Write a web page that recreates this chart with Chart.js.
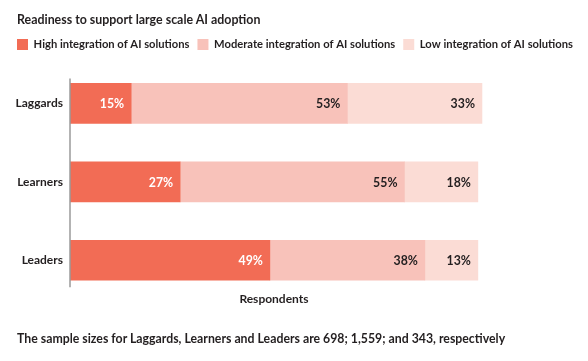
<!DOCTYPE html>
<html lang="en">
<head>
    <meta charset="UTF-8">
    <title>Readiness to support large scale AI adoption</title>
    <script src="https://cdn.jsdelivr.net/npm/chart.js"></script>
    <style>
        body { margin: 0; background: #fff; }
        .wrap { position: relative; width: 588px; height: 361px; }
        .txt { position: absolute; left: 17px; font: bold 12.3px Lato, sans-serif; color: #231f20; line-height: 14px; white-space: nowrap; }
        #title { top: 13px; font-size: 12.4px; }
        #note { top: 332px; }
    </style>
</head>
<body>
    <div class="wrap">
        <canvas id="chart" width="588" height="361"></canvas>
        <div class="txt" id="title">Readiness to support large scale AI adoption</div>
        <div class="txt" id="note">The sample sizes for Laggards, Learners and Leaders are 698; 1,559; and 343, respectively</div>
    </div>

    <script>
        const categories = ["Laggards", "Learners", "Leaders"];
        const seriesNames = ["High integration of AI solutions", "Moderate integration of AI solutions", "Low integration of AI solutions"];
        const highValues = [15, 27, 49];
        const moderateValues = [53, 55, 38];
        const lowValues = [33, 18, 13];
        const xAxisLabel = "Respondents";

        const colors = ["#f26c55", "#f8c2ba", "#fbdcd5"];
        const font = "Lato, sans-serif";
        const ink = "#231f20";

        // value labels at the right end of each segment
        const barLabels = {
            id: "barLabels",
            afterDatasetsDraw(chart) {
                const ctx = chart.ctx;
                ctx.save();
                ctx.font = "bold 12.3px " + font;
                ctx.textAlign = "right";
                ctx.textBaseline = "middle";
                chart.data.datasets.forEach((ds, i) => {
                    chart.getDatasetMeta(i).data.forEach((bar, j) => {
                        ctx.fillStyle = i === 0 ? "#fff" : ink;
                        ctx.fillText(ds.data[j] + "%", bar.x - 7, bar.y + 1);
                    });
                });
                ctx.restore();
            }
        };

        // left axis line and the "Respondents" caption
        const axisDecor = {
            id: "axisDecor",
            afterDraw(chart) {
                const ctx = chart.ctx;
                const area = chart.chartArea;
                const bars = chart.getDatasetMeta(0).data;
                const first = bars[0], last = bars[bars.length - 1];
                ctx.save();
                ctx.strokeStyle = "#9a9a9a";
                ctx.lineWidth = 1.5;
                ctx.beginPath();
                ctx.moveTo(area.left, first.y - first.height / 2 - 5);
                ctx.lineTo(area.left, last.y + last.height / 2 + 7);
                ctx.stroke();
                ctx.fillStyle = ink;
                ctx.font = "bold 12px " + font;
                ctx.textAlign = "center";
                ctx.textBaseline = "middle";
                ctx.fillText(xAxisLabel, chart.scales.x.getPixelForValue(50), area.bottom);
                ctx.restore();
            }
        };

        new Chart(document.getElementById("chart"), {
            type: "bar",
            data: {
                labels: categories,
                datasets: [
                    { label: seriesNames[0], data: highValues, backgroundColor: colors[0] },
                    { label: seriesNames[1], data: moderateValues, backgroundColor: colors[1] },
                    { label: seriesNames[2], data: lowValues, backgroundColor: colors[2] }
                ]
            },
            options: {
                indexAxis: "y",
                responsive: false,
                animation: false,
                devicePixelRatio: 1,
                barThickness: 40,
                layout: { padding: { top: 31, left: 9, right: 0, bottom: 61.5 } },
                scales: {
                    x: {
                        position: "top",
                        stacked: true,
                        min: 0,
                        max: 127,
                        ticks: { display: false },
                        grid: { display: false, drawTicks: false },
                        border: { display: false },
                        afterFit: s => { s.height = 4; }
                    },
                    y: {
                        stacked: true,
                        grid: { display: false, drawTicks: false },
                        border: { display: false },
                        ticks: { padding: 7, color: ink, font: { family: font, size: 12, weight: "bold" } },
                        afterFit: s => { s.width = 61; }
                    }
                },
                plugins: {
                    legend: {
                        position: "top",
                        align: "start",
                        labels: {
                            boxWidth: 11,
                            boxHeight: 11,
                            padding: 8,
                            color: ink,
                            font: { family: font, size: 11.2, weight: "bold" }
                        }
                    },
                    tooltip: { enabled: false }
                }
            },
            plugins: [barLabels, axisDecor]
        });
    </script>
</body>
</html>
